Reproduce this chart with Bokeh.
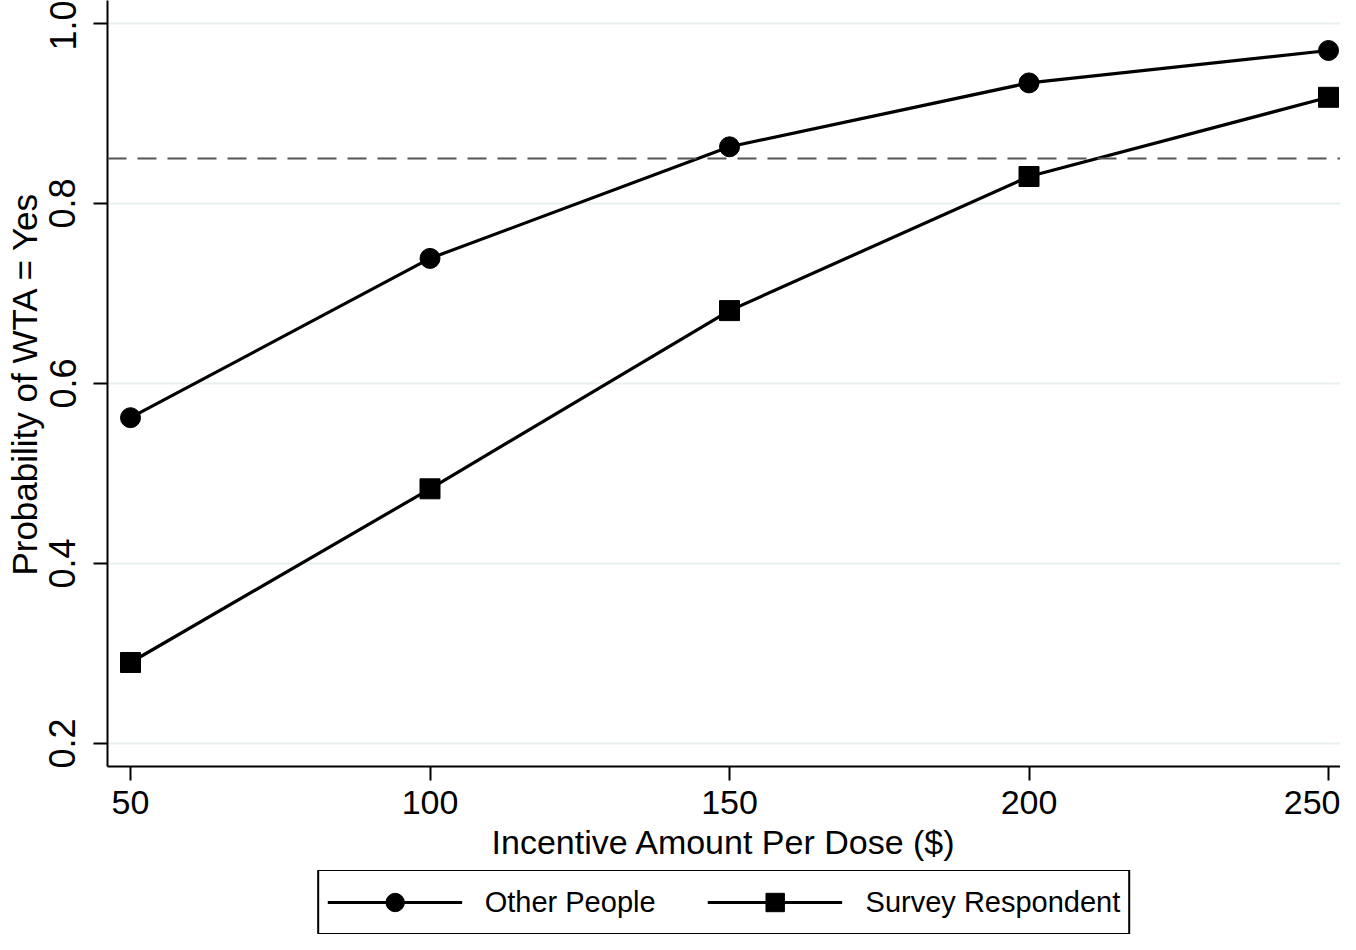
from bokeh.plotting import figure
from bokeh.layouts import column
from bokeh.models import Legend, LegendItem, Span, Range1d, FixedTicker, NumeralTickFormatter
from bokeh.embed import file_html
from bokeh.resources import INLINE

incentive = [50, 100, 150, 200, 250]
other_people = [0.562, 0.739, 0.863, 0.934, 0.970]
survey_respondent = [0.290, 0.483, 0.681, 0.830, 0.918]
x_ticks = [50, 100, 150, 200, 250]
y_ticks = [0.2, 0.4, 0.6, 0.8, 1.0]
threshold = 0.85
series_labels = ["Other People", "Survey Respondent"]

FONT = "Liberation Sans"

p = figure(width=1340, height=870, output_backend="svg", toolbar_location=None,
           x_range=Range1d(46.16, 252.0), y_range=Range1d(0.17444, 1.02556),
           min_border_left=107, min_border_top=0, min_border_right=0, min_border_bottom=104)

p.outline_line_color = None
p.background_fill_color = "white"
p.border_fill_color = "white"

p.xgrid.visible = False
p.ygrid.grid_line_color = "#E8EFF1"
p.ygrid.grid_line_width = 2
p.ygrid.ticker = FixedTicker(ticks=y_ticks)

p.xaxis.ticker = FixedTicker(ticks=x_ticks)
p.yaxis.ticker = FixedTicker(ticks=y_ticks)
p.yaxis.formatter = NumeralTickFormatter(format="0.0")

for ax in (p.xaxis[0], p.yaxis[0]):
    ax.axis_line_width = 2
    ax.axis_line_color = "black"
    ax.major_tick_line_width = 2
    ax.major_tick_line_color = "black"
    ax.major_tick_in = 0
    ax.major_tick_out = 14
    ax.minor_tick_line_color = None
    ax.major_label_text_font = FONT
    ax.major_label_text_color = "black"
    ax.axis_label_text_font = FONT
    ax.axis_label_text_font_style = "normal"
    ax.axis_label_text_color = "black"

p.xaxis.major_label_text_font_size = "34px"
p.yaxis.major_label_text_font_size = "36px"
p.xaxis.axis_label_text_font_size = "34px"
p.yaxis.axis_label_text_font_size = "35px"
p.yaxis.major_label_orientation = "vertical"
p.xaxis.major_label_standoff = 10
p.yaxis.major_label_standoff = 18
p.xaxis.axis_label_standoff = 6
p.yaxis.axis_label_standoff = 3
p.xaxis.axis_label = "Incentive Amount Per Dose ($)"
p.yaxis.axis_label = "Probability of WTA = Yes"

ref = Span(location=threshold, dimension="width", line_color="#555555",
           line_width=2, line_dash="19 11")
p.add_layout(ref)

p.line(incentive, other_people, line_width=3.2, line_color="black")
p.scatter(incentive, other_people, marker="circle", size=20,
          fill_color="black", line_color="black")
p.line(incentive, survey_respondent, line_width=3.2, line_color="black")
p.scatter(incentive, survey_respondent, marker="square", size=20,
          fill_color="black", line_color="black")

# legend strip below the chart (its renderers lie outside its visible range)
lg = figure(width=1340, height=64, output_backend="svg", toolbar_location=None,
            x_range=Range1d(0, 1), y_range=Range1d(0, 0.1),
            x_axis_location=None, y_axis_location=None,
            min_border_left=107, min_border_top=0, min_border_right=0, min_border_bottom=0)
lg.outline_line_color = None
lg.grid.visible = False
lg.border_fill_color = "white"
k1 = lg.line(incentive, other_people, line_width=3.2, line_color="black")
m1 = lg.scatter(incentive, other_people, marker="circle", size=18,
                fill_color="black", line_color="black")
k2 = lg.line(incentive, survey_respondent, line_width=3.2, line_color="black")
m2 = lg.scatter(incentive, survey_respondent, marker="square", size=18,
                fill_color="black", line_color="black")

legend = Legend(items=[LegendItem(label=series_labels[0], renderers=[k1, m1]),
                       LegendItem(label=series_labels[1], renderers=[k2, m2])],
                orientation="horizontal", location="center",
                glyph_width=135, glyph_height=46, label_height=46,
                label_standoff=23, spacing=52, padding=8,
                border_line_color="black", border_line_width=2.5, border_line_alpha=1.0,
                label_text_font=FONT, label_text_font_size="29px",
                label_text_color="black", background_fill_color="white",
                background_fill_alpha=1.0, margin=0)
lg.add_layout(legend, "center")

layout = column(p, lg, spacing=0)
open("out.html", "w").write(file_html(layout, INLINE))
